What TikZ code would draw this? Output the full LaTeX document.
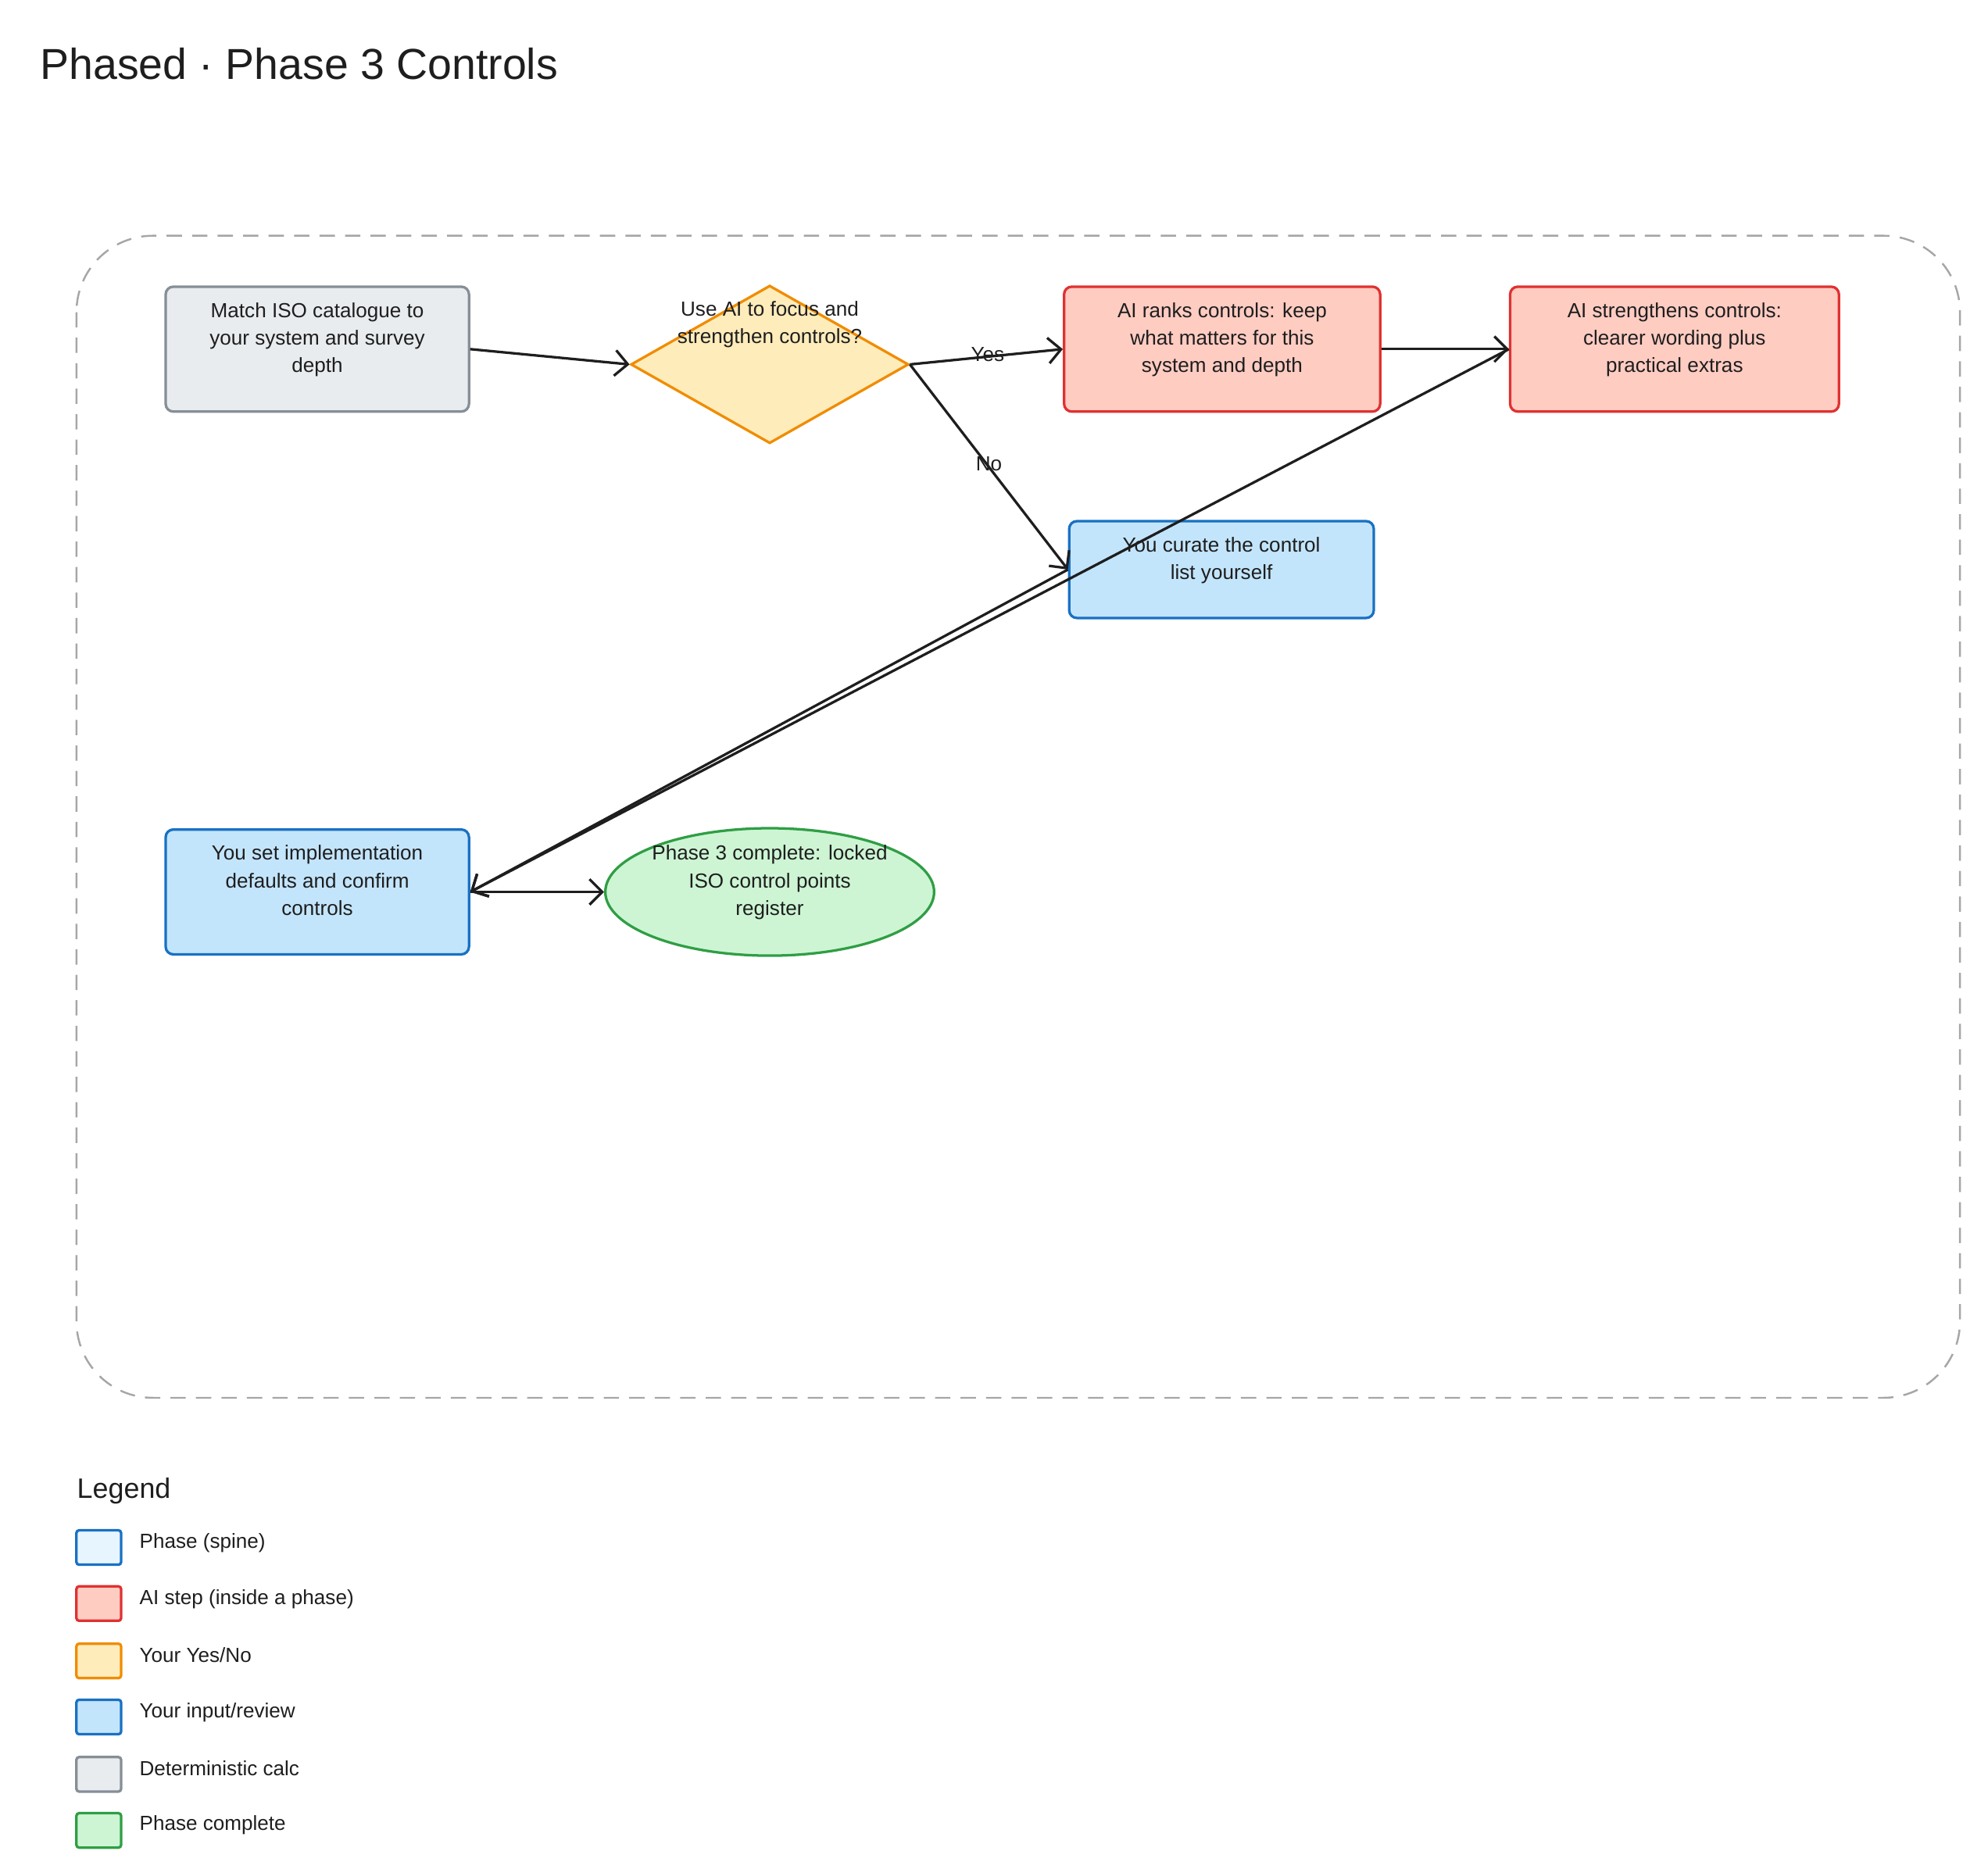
\documentclass[tikz,border=0pt]{standalone}
\usepackage{fontspec}
\setmainfont{Liberation Sans}
\usetikzlibrary{shapes.geometric,arrows.meta}
\definecolor{spineF}{HTML}{E7F5FF}\definecolor{spineD}{HTML}{1971C2}
\definecolor{aiF}{HTML}{FFCCC2}\definecolor{aiD}{HTML}{E03131}
\definecolor{ynF}{HTML}{FFECBB}\definecolor{ynD}{HTML}{F08C00}
\definecolor{inF}{HTML}{C3E5FC}\definecolor{inD}{HTML}{1971C2}
\definecolor{gF}{HTML}{E9ECEF}\definecolor{gD}{HTML}{868E96}
\definecolor{okF}{HTML}{CDF5D4}\definecolor{okD}{HTML}{2F9E44}
\definecolor{txt}{HTML}{1E1E1E}
\begin{document}
\begin{tikzpicture}[x=1pt,y=-1pt,
  box/.style={draw,line width=2pt,rounded corners=6pt,align=center,text=txt,font=\fontsize{16}{21.5}\selectfont,inner sep=0pt},
  lg/.style={draw,line width=2pt,rounded corners=2pt,minimum width=35pt,minimum height=27pt,anchor=north west,inner sep=0pt},
  lt/.style={anchor=west,font=\fontsize{16}{19}\selectfont,text=txt},
  arr/.style={line width=2pt,draw=txt,-{Straight Barb[length=10pt,width=20pt,line width=2pt]}},
  lab/.style={font=\fontsize{16}{19}\selectfont,text=txt}]
\useasboundingbox (0,0) rectangle (1560,1472);
\node[anchor=west,font=\fontsize{34}{40}\selectfont,text=txt] (title) at (28,50) {Phased · Phase 3 Controls};
\draw[dashed,dash pattern=on 12pt off 8pt,line width=1.5pt,draw=gray!70,rounded corners=60pt] (60,185) rectangle (1538,1097);
\node[box,fill=gF,draw=gD,minimum width=238pt,minimum height=98pt] (m) at (249,274) {};
\node[align=center,text=txt,font=\fontsize{16}{21.5}\selectfont,anchor=north] at (249,234) {Match ISO catalogue to\\your system and survey\\depth};
\node[diamond,draw=ynD,fill=ynF,line width=2pt,minimum width=218pt,minimum height=124pt,inner sep=0pt,aspect=1.76] (d) at (604,286) {};
\node[align=center,text=txt,font=\fontsize{16}{21.5}\selectfont,anchor=north] at (604,233) {Use AI to focus and\\strengthen controls?};
\node[box,fill=aiF,draw=aiD,minimum width=248pt,minimum height=98pt] (r) at (959,274) {};
\node[align=center,text=txt,font=\fontsize{16}{21.5}\selectfont,anchor=north] at (959,234) {AI ranks controls: keep\\what matters for this\\system and depth};
\node[box,fill=aiF,draw=aiD,minimum width=258pt,minimum height=98pt] (s) at (1314,274) {};
\node[align=center,text=txt,font=\fontsize{16}{21.5}\selectfont,anchor=north] at (1314,234) {AI strengthens controls:\\clearer wording plus\\practical extras};
\node[box,fill=inF,draw=inD,minimum width=239pt,minimum height=76pt] (c) at (958.5,447) {};
\node[align=center,text=txt,font=\fontsize{16}{21.5}\selectfont,anchor=north] at (958.5,418) {You curate the control\\list yourself};
\node[box,fill=inF,draw=inD,minimum width=238pt,minimum height=98pt] (u) at (249,700) {};
\node[align=center,text=txt,font=\fontsize{16}{21.5}\selectfont,anchor=north] at (249,660) {You set implementation\\defaults and confirm\\controls};
\node[ellipse,draw=okD,fill=okF,line width=2pt,minimum width=258pt,minimum height=100pt,inner sep=0pt] (e) at (604,700) {};
\node[align=center,text=txt,font=\fontsize{16}{21.5}\selectfont,anchor=north] at (604,660) {Phase 3 complete: locked\\ISO control points\\register};
\draw[arr] (m.east) -- (d.west);
\draw[arr] (d.east) -- (r.west);
\draw[arr] (d.east) -- (c.west);
\draw[arr] (r.east) -- (s.west);
\draw[arr] (s.west) -- (u.east);
\draw[arr] (c.west) -- (u.east);
\draw[arr] (u.east) -- (e.west);
\node[lab] (yes) at (775,278) {Yes};
\node[lab] (no) at (776,364) {No};
\node[anchor=west,font=\fontsize{22}{26}\selectfont,text=txt] (lgt) at (57,1170) {Legend};
\node[lg,fill=spineF,draw=spineD] (l1) at (59,1200) {}; \node[lt] at (106,1211) {Phase (spine)};
\node[lg,fill=aiF,draw=aiD] (l2) at (59,1244) {}; \node[lt] at (106,1255) {AI step (inside a phase)};
\node[lg,fill=ynF,draw=ynD] (l3) at (59,1289) {}; \node[lt] at (106,1299) {Your Yes/No};
\node[lg,fill=inF,draw=inD] (l4) at (59,1333) {}; \node[lt] at (106,1344) {Your input/review};
\node[lg,fill=gF,draw=gD] (l5) at (59,1378) {}; \node[lt] at (106,1388) {Deterministic calc};
\node[lg,fill=okF,draw=okD] (l6) at (59,1422) {}; \node[lt] at (106,1432) {Phase complete};
\end{tikzpicture}
\end{document}
